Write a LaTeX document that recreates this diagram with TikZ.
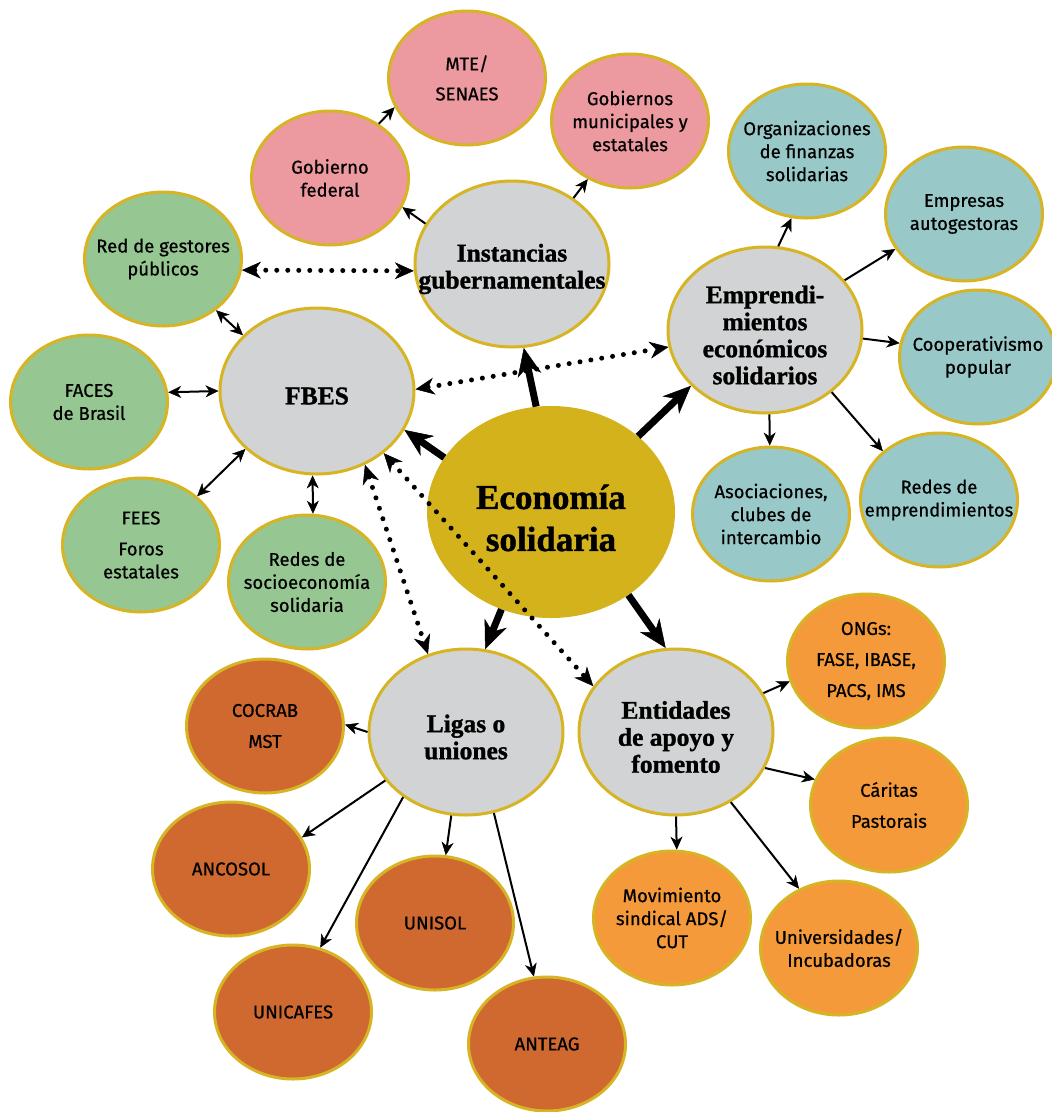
\documentclass[tikz,border=0pt]{standalone}
\usepackage{fontspec}
\setmainfont{Fira Sans}[FakeBold=0.6]
\newfontfamily\slab{Liberation Serif}[BoldFeatures={FakeBold=1.2}]
\usetikzlibrary{arrows.meta,shapes.geometric}
\definecolor{cpink}{RGB}{236,154,160}
\definecolor{cgreen}{RGB}{150,198,146}
\definecolor{cteal}{RGB}{153,200,200}
\definecolor{cgray}{RGB}{209,211,212}
\definecolor{cgold}{RGB}{212,178,28}
\definecolor{bord}{RGB}{214,180,36}
\definecolor{cdark}{RGB}{208,105,48}
\definecolor{corange}{RGB}{245,154,58}
\tikzset{
  st/.style={label={[align=center, inner sep=0pt, font=\fontsize{18.5}{23}\selectfont]center:{#1}}},
  ht/.style={label={[align=center, inner sep=0pt, yshift=-5pt, font=\slab\bfseries\fontsize{25.5}{27}\selectfont]center:{#1}}},
  et/.style={label={[align=center, inner sep=0pt, yshift=-6pt, font=\slab\bfseries\fontsize{35}{42}\selectfont]center:{#1}}},
  sm/.style={ellipse, draw=bord, line width=3pt, inner sep=0pt,
    minimum width=157pt, minimum height=134pt},
  pinkf/.style={sm, fill=cpink},
  greenf/.style={sm, fill=cgreen},
  tealf/.style={sm, fill=cteal},
  darkf/.style={sm, fill=cdark},
  orf/.style={sm, fill=corange},
  hub/.style={ellipse, draw=bord, line width=3pt, fill=cgray, inner sep=0pt,
    minimum width=194pt, minimum height=166pt},
  eco/.style={ellipse, fill=cgold, inner sep=0pt,
    minimum width=248pt, minimum height=212pt},
  tarrow/.style={line width=2pt, -{Stealth[length=13pt,width=12pt,inset=4pt,line width=0.5pt]}},
  tdouble/.style={line width=2pt, {Stealth[length=13pt,width=12pt,inset=4pt,line width=0.5pt]}-{Stealth[length=13pt,width=12pt,inset=4pt,line width=0.5pt]}},
  bigarrow/.style={line width=7pt, -{Stealth[length=28pt,width=24pt,inset=9pt,line width=0.5pt]}},
  dotdouble/.style={line width=5pt, line cap=round, dash pattern=on 0pt off 11pt,
    {Stealth[length=19pt,width=17pt,inset=6pt,line width=0.5pt]}-{Stealth[length=19pt,width=17pt,inset=6pt,line width=0.5pt]}},
}
\begin{document}
\begin{tikzpicture}[x=1pt,y=-1pt]
\useasboundingbox (0,0) rectangle (1052,1112);
\fill[white] (0,0) rectangle (1052,1112);

% hubs
\node[hub, ht={Instancias\\gubernamentales}] (inst) at (512,264) {};
\node[hub, ht={FBES}] (fbes) at (317,391) {};
\node[hub, ht={Emprendi-\\mientos\\económicos\\solidarios}] (emp) at (765,330) {};
\node[hub, ht={Ligas o\\uniones}] (ligas) at (466,732) {};
\node[hub, ht={Entidades\\de apoyo y\\fomento}] (ent) at (676,732) {};
\node[eco, et={Economía\\solidaria}] (eco) at (551,512) {};

% small nodes
\node[pinkf, st={MTE/\\[7pt]SENAES}] (mte) at (467,78) {};
\node[pinkf, st={Gobiernos\\municipales y\\estatales}] (gmun) at (630,121) {};
\node[pinkf, st={Gobierno\\federal}] (gfed) at (330,178) {};
\node[greenf, st={Red de gestores\\públicos}] (red) at (163,259) {};
\node[greenf, st={FACES\\de Brasil}] (faces) at (89,402) {};
\node[greenf, st={FEES\\[8pt]Foros\\estatales}] (fees) at (141,545) {};
\node[greenf, st={Redes de\\socioeconomía\\solidaria}] (rsoc) at (307,582) {};
\node[tealf, st={Organizaciones\\de finanzas\\solidarias}] (org) at (807,151) {};
\node[tealf, st={Empresas\\autogestoras}] (empa) at (964,214) {};
\node[tealf, st={Cooperativismo\\popular}] (coop) at (978,357) {};
\node[tealf, st={Asociaciones,\\clubes de\\intercambio}] (asoc) at (771,514) {};
\node[tealf, st={Redes de\\emprendimientos}] (rede) at (939,500) {};
\node[darkf, st={COCRAB\\[8pt]MST}] (cocrab) at (265,726) {};
\node[darkf, st={ANCOSOL}] (ancosol) at (231,869) {};
\node[darkf, st={UNISOL}] (unisol) at (435,923) {};
\node[darkf, st={UNICAFES}] (unicafes) at (293,1012) {};
\node[darkf, st={ANTEAG}] (anteag) at (547,1044) {};
\node[orf, st={ONGs:\\[8pt]FASE, IBASE,\\[8pt]PACS, IMS}] (ongs) at (866,661) {};
\node[orf, st={Cáritas\\[8pt]Pastorais}] (caritas) at (889,805) {};
\node[orf, st={Movimiento\\sindical ADS/\\CUT}] (mov) at (672,918) {};
\node[orf, st={Universidades/\\Incubadoras}] (univ) at (839,948) {};

% thick arrows from Economia
\draw[bigarrow] (eco.98) -- (inst.278);
\draw[bigarrow] (eco.153) -- (fbes.336);
\draw[bigarrow] (eco.41) -- (emp.217);
\draw[bigarrow] (eco.243) -- (ligas.77);
\draw[bigarrow] (eco.313) -- (ent.97);

% dotted double arrows
\draw[dotdouble] (fbes.1) -- (emp.190);
\draw[dotdouble] (fbes.303) -- (ligas.116);
\draw[dotdouble] (fbes.317) -- (ent.151);
\draw[dotdouble] (red.352) -- (inst.184);

% FBES double arrows
\draw[tdouble] (red.316) -- (fbes.143);
\draw[tdouble] (faces.7) -- (fbes.180);
\draw[tdouble] (fees.41) -- (fbes.219);
\draw[tdouble] (rsoc.85) -- (fbes.267);

% Instancias
\draw[tarrow] (inst.155) -- (gfed.338);
\draw[tarrow] (inst.47) -- (gmun.234);
\draw[tarrow] (gfed.48) -- (mte.202);

% Emprendimientos
\draw[tarrow] (emp.81) -- (org.257);
\draw[tarrow] (emp.32) -- (empa.207);
\draw[tarrow] (emp.355) -- (coop.170);
\draw[tarrow] (emp.273) -- (asoc.91);
\draw[tarrow] (emp.317) -- (rede.139);

% Ligas
\draw[tarrow] (ligas.180) -- (cocrab.1);
\draw[tarrow] (ligas.211) -- (ancosol.24);
\draw[tarrow] (ligas.226) -- (unicafes.67);
\draw[tarrow] (ligas.260) -- (unisol.81);
\draw[tarrow] (ligas.289) -- (anteag.101);

% Entidades
\draw[tarrow] (ent.24) -- (ongs.195);
\draw[tarrow] (ent.338) -- (caritas.161);
\draw[tarrow] (ent.270) -- (mov.86);
\draw[tarrow] (ent.308) -- (univ.124);
\end{tikzpicture}
\end{document}
